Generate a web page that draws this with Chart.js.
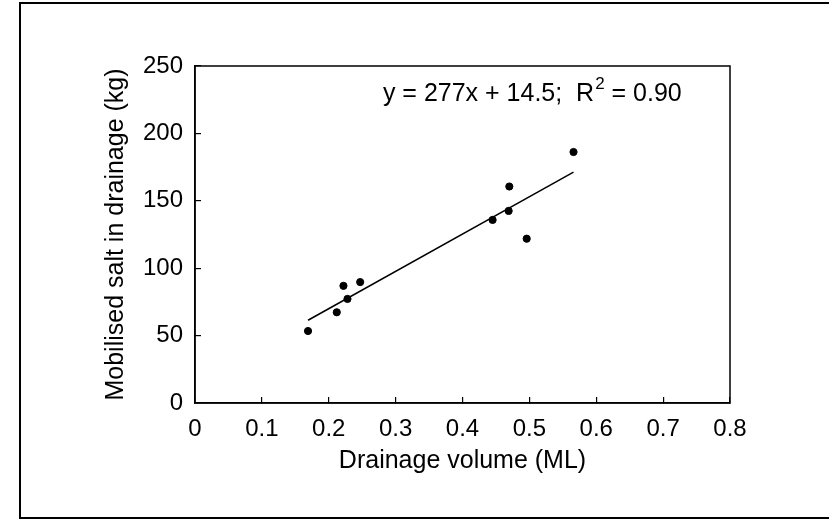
<!DOCTYPE html>
<html>
<head>
<meta charset="utf-8">
<script src="https://cdn.jsdelivr.net/npm/chart.js@4"></script>
<style>
  html, body { margin: 0; padding: 0; background: #fff; overflow: hidden; }
  #wrap { position: relative; width: 829px; height: 519px; }
  #frame { position: absolute; left: 19px; top: 2px; width: 840px; height: 513px; border: 2px solid #000; }
  #myChart { position: absolute; left: 0; top: 0; }
</style>
</head>
<body>
<div id="wrap">
  <div id="frame"></div>
  <canvas id="myChart" width="829" height="519"></canvas>
</div>
<script>
// drainage volume (ML) vs mobilised salt (kg)
var volume = [0.169, 0.212, 0.222, 0.228, 0.247, 0.445, 0.469, 0.470, 0.496, 0.566];
var salt = [53.4, 67.3, 86.9, 77.2, 89.7, 135.8, 142.5, 160.6, 121.9, 186.2];

// fitted line y = 277x + 14.5, ends as drawn
var fitX = [0.169, 0.566];
var fitY = [61.4, 171.3];

var xTicks = ['0', '0.1', '0.2', '0.3', '0.4', '0.5', '0.6', '0.7', '0.8'];
var yTicks = ['0', '50', '100', '150', '200', '250'];

var xTitle = 'Drainage volume (ML)';
var yTitle = 'Mobilised salt in drainage (kg)';
var eqLeft = 'y = 277x + 14.5;  R';
var eqSup = '2';
var eqRight = ' = 0.90';

var FONT = "'Liberation Sans', Arial, Helvetica, sans-serif";
Chart.defaults.color = '#000';
Chart.defaults.font.family = FONT;

var plotBox = {
    id: 'plotBox',
    afterDraw: function(chart) {
        var c = chart.ctx, a = chart.chartArea;
        c.save();
        c.strokeStyle = '#000';
        c.lineWidth = 1.5;
        c.strokeRect(a.left, a.top, a.right - a.left, a.bottom - a.top);
        // equation label
        var xs = chart.scales.x, ys = chart.scales.y;
        var px = xs.getPixelForValue(0.281), py = ys.getPixelForValue(229);
        c.fillStyle = '#000';
        c.textBaseline = 'middle';
        c.font = '25px ' + FONT;
        c.fillText(eqLeft, px, py);
        px += c.measureText(eqLeft).width;
        c.font = '17px ' + FONT;
        c.fillText(eqSup, px + 1, py - 10);
        px += c.measureText(eqSup).width + 1;
        c.font = '25px ' + FONT;
        c.fillText(eqRight, px, py);
        c.restore();
    }
};

var ctx = document.getElementById('myChart').getContext('2d');
var myChart = new Chart(ctx, {
    type: 'scatter',
    data: {
        datasets: [{
            label: 'Observed',
            data: volume.map(function(v, i) { return {x: v, y: salt[i]}; }),
            backgroundColor: '#000',
            borderColor: '#000',
            pointRadius: 3.6,
            pointHoverRadius: 3.6
        },
        {
            label: 'Fit',
            type: 'line',
            data: fitX.map(function(v, i) { return {x: v, y: fitY[i]}; }),
            borderColor: '#000',
            borderWidth: 1.5,
            pointRadius: 0,
            fill: false,
            tension: 0
        }]
    },
    options: {
        responsive: false,
        animation: false,
        layout: {
            padding: {left: 0, top: 66, right: 99, bottom: 36}
        },
        plugins: {
            legend: {display: false},
            tooltip: {enabled: false}
        },
        scales: {
            x: {
                type: 'linear',
                min: 0,
                max: 0.8,
                afterFit: function(s) { s.height = 80; },
                border: {color: '#000', width: 1.5},
                grid: {drawOnChartArea: false, drawTicks: true, tickLength: -6, color: '#000', lineWidth: 1.2},
                ticks: {
                    stepSize: 0.1,
                    padding: 18,
                    font: {size: 24},
                    callback: function(v, i) { return xTicks[i]; }
                },
                title: {display: true, text: xTitle, font: {size: 25}, padding: {top: 0, bottom: 7}}
            },
            y: {
                min: 0,
                max: 250,
                afterFit: function(s) { s.width = 195; },
                border: {color: '#000', width: 1.5},
                grid: {drawOnChartArea: false, drawTicks: true, tickLength: -6, color: '#000', lineWidth: 1.2},
                ticks: {
                    stepSize: 50,
                    padding: 18,
                    font: {size: 24},
                    callback: function(v, i) { return yTicks[i]; }
                },
                title: {display: true, text: yTitle, font: {size: 25}, padding: {top: 101, bottom: 0}}
            }
        }
    },
    plugins: [plotBox]
});
</script>
</body>
</html>
